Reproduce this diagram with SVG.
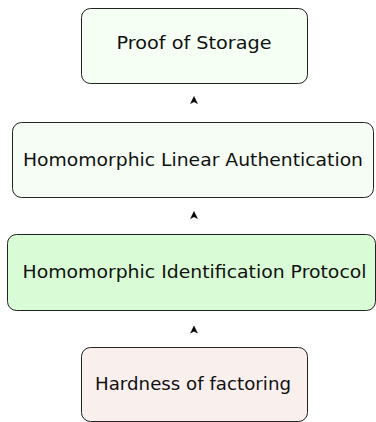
<svg xmlns="http://www.w3.org/2000/svg" width="376" height="422" viewBox="0 0 376 422">
  <style>
    .box { stroke: #222; stroke-width: 1; }
    .lbl { font-family: "DejaVu Sans", "Liberation Sans", sans-serif; font-size: 18.5px; fill: #111; text-anchor: middle; }
    .tip { fill: #000; stroke: #000; stroke-width: 0.5; stroke-linejoin: round; }
  </style>
  <defs>
    <!-- stealth-style arrow tip, pointing up, tip at origin -->
    <path id="tip" d="M0,0 L3.4,7 L0,5.2 L-3.4,7 Z"/>
  </defs>

  <g id="proof-of-storage">
    <rect class="box" x="81.5" y="8.5" width="226" height="75" rx="9" fill="#f5fff4"/>
    <text class="lbl" x="194" y="49" textLength="155" lengthAdjust="spacingAndGlyphs">Proof of Storage</text>
  </g>

  <g id="hla">
    <rect class="box" x="12.5" y="122.5" width="361" height="75" rx="9" fill="#f6fdf4"/>
    <text class="lbl" x="193" y="166" textLength="340" lengthAdjust="spacingAndGlyphs">Homomorphic Linear Authentication</text>
  </g>

  <g id="hip">
    <rect class="box" x="7.5" y="234.5" width="368" height="76" rx="9" fill="#d9fcd6"/>
    <text class="lbl" x="194.5" y="277.5" textLength="344" lengthAdjust="spacingAndGlyphs">Homomorphic Identification Protocol</text>
  </g>

  <g id="factoring">
    <rect class="box" x="81.5" y="347.5" width="226" height="74" rx="9" fill="#f9f0ee"/>
    <text class="lbl" x="193" y="390" textLength="196" lengthAdjust="spacingAndGlyphs">Hardness of factoring</text>
  </g>

  <g id="connectors">
    <use href="#tip" class="tip" x="194" y="96.5"/>
    <use href="#tip" class="tip" x="194" y="211.5"/>
    <use href="#tip" class="tip" x="194" y="326"/>
  </g>
</svg>
